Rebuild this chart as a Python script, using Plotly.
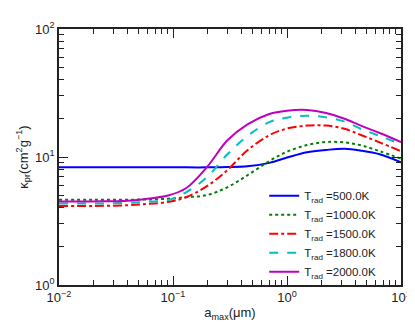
import plotly.graph_objects as go

a_max = [0.01, 0.02, 0.04, 0.06, 0.09, 0.13, 0.2, 0.3, 0.45, 0.7, 1.0, 1.5, 2.2, 3.2, 4.5, 6.5, 10]

k_500 = [8.3, 8.3, 8.3, 8.3, 8.3, 8.3, 8.3, 8.35, 8.45, 9.0, 9.9, 10.9, 11.35, 11.6, 11.2, 10.5, 9.1]
k_1000 = [4.64, 4.64, 4.64, 4.66, 4.72, 4.85, 5.05, 5.8, 7.2, 9.3, 11.0, 12.4, 13.1, 13.0, 12.3, 11.1, 9.7]
k_1500 = [4.14, 4.14, 4.2, 4.3, 4.45, 4.85, 5.95, 7.9, 11.3, 14.8, 16.7, 17.6, 17.6, 16.6, 14.8, 13.0, 11.1]
k_1800 = [4.33, 4.33, 4.38, 4.48, 4.6, 5.3, 7.0, 10.5, 14.6, 18.7, 20.3, 21.0, 20.4, 18.9, 16.5, 14.6, 12.6]
k_2000 = [4.5, 4.5, 4.55, 4.72, 5.0, 5.7, 8.4, 13.5, 18.0, 21.7, 23.0, 23.3, 22.1, 19.9, 17.5, 15.4, 13.1]

series_names = ["T<sub>rad</sub> =500.0K", "T<sub>rad</sub> =1000.0K", "T<sub>rad</sub> =1500.0K",
                "T<sub>rad</sub> =1800.0K", "T<sub>rad</sub> =2000.0K"]
series_vals = [k_500, k_1000, k_1500, k_1800, k_2000]
colors = ["#0000ff", "#008000", "#ff0000", "#00bfbf", "#bf00bf"]
dashes = ["solid", "dot", "dashdot", "dash", "solid"]

x_tickvals = [0.01, 0.1, 1, 10]
x_ticktext = ["10<sup>−2</sup>", "10<sup>−1</sup>", "10<sup>0</sup>", "10<sup>1</sup>"]
y_tickvals = [1, 10, 100]
y_ticktext = ["10<sup>0</sup>", "10<sup>1</sup>", "10<sup>2</sup>"]

x_minor = [m * 10 ** e for e in (-2, -1, 0) for m in range(2, 10)]
y_minor = [m * 10 ** e for e in (0, 1) for m in range(2, 10)]

fig = go.Figure()
for name, vals, c, d in zip(series_names, series_vals, colors, dashes):
    fig.add_trace(go.Scatter(x=a_max, y=vals, mode="lines", name=name,
                             line=dict(color=c, dash=d, width=2, shape="spline", smoothing=1.0)))

axis_common = dict(
    type="log", showline=True, linecolor="#222", linewidth=1.5, mirror="ticks",
    ticks="inside", ticklen=9, tickwidth=1.2, tickcolor="#222", showgrid=False, zeroline=False,
    tickfont=dict(family="Liberation Sans, Arial", size=13, color="#222"),
)

fig.update_layout(
    width=415, height=322,
    margin=dict(l=51, r=18, t=12, b=42),
    paper_bgcolor="white", plot_bgcolor="white",
    font=dict(family="Liberation Sans, Arial", size=13, color="#222"),
    xaxis=dict(range=[-2, 1], tickmode="array", tickvals=x_tickvals, ticktext=x_ticktext,
               minor=dict(tickmode="array", tickvals=x_minor, ticks="inside", ticklen=5, tickwidth=1, tickcolor="#222"),
               title=dict(text="a<sub>max</sub>(μm)", standoff=4, font=dict(size=13)),
               **axis_common),
    yaxis=dict(range=[0, 2], tickmode="array", tickvals=y_tickvals, ticktext=y_ticktext,
               minor=dict(tickmode="array", tickvals=y_minor, ticks="inside", ticklen=5, tickwidth=1, tickcolor="#222"),
               title=dict(text="κ<sub>pr</sub>(cm<sup>2</sup>g<sup>−1</sup>)", standoff=4, font=dict(size=13)),
               **axis_common),
    legend=dict(x=0.6, y=0.405, xanchor="left", yanchor="top", bgcolor="rgba(0,0,0,0)",
                font=dict(size=11.5), itemwidth=30, tracegroupgap=0),
    showlegend=True,
)

fig.write_html("out.html")
